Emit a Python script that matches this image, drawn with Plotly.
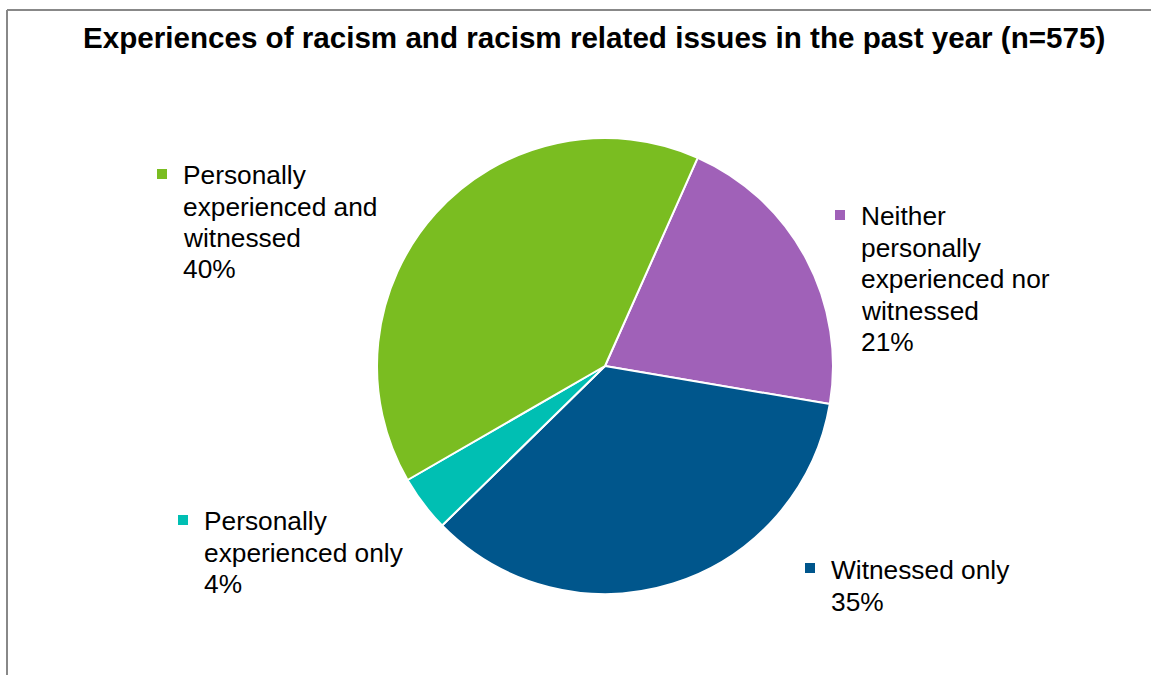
import plotly.graph_objects as go

# ---- data ----
categories = [
    "Neither personally experienced nor witnessed",
    "Witnessed only",
    "Personally experienced only",
    "Personally experienced and witnessed",
]
values = [21, 35, 4, 40]
label_lines = [
    ["Neither", "personally", "experienced nor", "witnessed"],
    ["Witnessed only"],
    ["Personally", "experienced only"],
    ["Personally", "experienced and", "witnessed"],
]
colors = ["#A061B8", "#00568C", "#00BFB3", "#7ABD21"]
title_text = "Experiences of racism and racism related issues in the past year (n=575)"

W, H = 1151, 675
FONT = "Liberation Sans, Arial, sans-serif"

def px(x):
    return x / W

def py(y):
    return 1 - y / H

cx, cy, r = 605, 366, 228

fig = go.Figure(go.Pie(
    labels=categories,
    values=values,
    sort=False,
    direction="clockwise",
    rotation=24,
    marker=dict(colors=colors, line=dict(color="white", width=2)),
    textinfo="none",
    hoverinfo="label+percent",
    showlegend=False,
    domain=dict(x=[px(cx - r), px(cx + r)], y=[py(cy + r), py(cy - r)]),
))

# label placement (style): square left/top, text left, first line center y
placements = [
    dict(sq=(835, 210), tx=859, y0=216),
    dict(sq=(805, 563), tx=829, y0=570),
    dict(sq=(178, 515), tx=202, y0=521),
    dict(sq=(157, 169), tx=181, y0=175),
]
line_h = 31.5
total = sum(values)
annotations = []
shapes = []
for lines, val, col, pl in zip(label_lines, values, colors, placements):
    all_lines = lines + [f"{round(100 * val / total)}%"]
    for i, ln in enumerate(all_lines):
        annotations.append(dict(
            x=px(pl["tx"]), y=py(pl["y0"] + i * line_h), xref="paper", yref="paper",
            text=ln, showarrow=False, xanchor="left", yanchor="middle",
            font=dict(family=FONT, size=26.3, color="#000000"),
        ))
    sx, sy = pl["sq"]
    shapes.append(dict(type="rect", xref="paper", yref="paper",
                       x0=px(sx), x1=px(sx + 10), y0=py(sy + 10), y1=py(sy),
                       fillcolor=col, line=dict(width=0)))

annotations.append(dict(
    x=px(594), y=py(38), xref="paper", yref="paper", text=f"<b>{title_text}</b>",
    showarrow=False, xanchor="center", yanchor="middle",
    font=dict(family=FONT, size=29.6, color="#000000"),
))

# outer chart border
shapes.append(dict(type="line", xref="paper", yref="paper",
                   x0=px(7), x1=px(7), y0=py(H + 5), y1=py(10),
                   line=dict(color="#888888", width=2)))
shapes.append(dict(type="line", xref="paper", yref="paper",
                   x0=px(7), x1=px(W + 5), y0=py(10), y1=py(10),
                   line=dict(color="#888888", width=2)))

fig.update_layout(
    width=W, height=H,
    margin=dict(l=0, r=0, t=0, b=0),
    paper_bgcolor="white", plot_bgcolor="white",
    annotations=annotations, shapes=shapes,
)

fig.write_html("out.html", include_plotlyjs=True, full_html=True,
               config=dict(displayModeBar=False))
